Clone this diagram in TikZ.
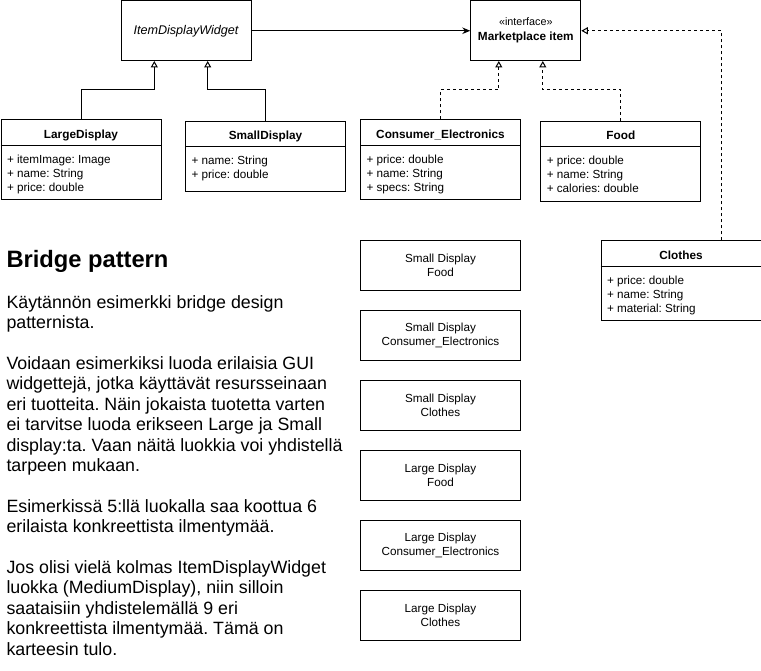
\documentclass[tikz,border=0pt]{standalone}
\usepackage{fontspec}
\setmainfont{Liberation Sans}
\usetikzlibrary{arrows.meta}
\frenchspacing
\newcommand\umlclass[7]{%
  \node[box, minimum width=#4pt, minimum height=#5pt] (#1) at (#2,#3) {};
  \node[ttl] (#1-t) at ([yshift=-18.7pt]#1.north) {#6};
  \draw ([yshift=-26pt]#1.north west) -- ([yshift=-26pt]#1.north east);
  \node[atr] (#1-a) at ([xshift=6pt,yshift=-43.8pt]#1.north west) {\parbox[t]{#4pt}{\raggedright\frenchspacing #7}};
}
\begin{document}
\begin{tikzpicture}[x=1pt,y=-1pt,line width=1pt,
  box/.style={draw, inner sep=0pt, anchor=north west},
  ttl/.style={font=\fontsize{11.8}{14}\selectfont\bfseries, anchor=base, inner sep=0pt},
  atr/.style={anchor=base west, inner sep=0pt, font=\fontsize{11.7}{14}\selectfont},
  gen/.style={-{Triangle[open,length=6.5pt,width=7pt]}},
  realize/.style={gen, dash pattern=on 3pt off 3pt},
  combo/.style={draw, inner sep=0pt, minimum width=160pt, minimum height=50pt, anchor=north west, align=center, font=\fontsize{11.7}{14}\selectfont}]
\useasboundingbox (0,0) rectangle (761,671);

% abstraction
\node[box, minimum width=130pt, minimum height=59.5pt] (idw) at (120.5,0.5) {};
\node[inner sep=0pt, font=\fontsize{12.6}{15}\selectfont\itshape] (idw-t) at (idw.center) {ItemDisplayWidget};

% interface
\node[box, minimum width=110pt, minimum height=59.5pt] (mi) at (470.3,0.5) {};
\node[inner sep=0pt, align=center, font=\fontsize{11.8}{15}\selectfont] (mi-t) at (mi.center) {{\fontsize{10.8}{15}\selectfont «interface»}\\{\bfseries Marketplace item}};

% classes
\umlclass{ld}{0.5}{119.5}{160}{79.5}{LargeDisplay}{+ itemImage: Image\\+ name: String\\+ price: double}
\umlclass{sd}{185}{121}{160}{70}{SmallDisplay}{+ name: String\\+ price: double}
\umlclass{ce}{360}{119.5}{160}{79.5}{Consumer\_Electronics}{+ price: double\\+ name: String\\+ specs: String}
\umlclass{food}{540.3}{121}{160}{80}{Food}{+ price: double\\+ name: String\\+ calories: double}
\umlclass{cl}{600.5}{240.5}{160}{79.5}{Clothes}{+ price: double\\+ name: String\\+ material: String}

% combinations
\node[combo] (sfood) at (360,240) {Small Display\\Food};
\node[combo] (sce) at (360,310) {Small Display\\Consumer\_Electronics};
\node[combo] (scl) at (360,380) {Small Display\\Clothes};
\node[combo] (lfood) at (360,450) {Large Display\\Food};
\node[combo] (lce) at (360,520) {Large Display\\Consumer\_Electronics};
\node[combo] (lcl) at (360,590) {Large Display\\Clothes};

% connectors
\draw[-{Stealth[length=8pt,width=6.5pt]}] (idw.east) -- (mi.west);
\draw[gen] (ld.north) -- ++(0,-29.5) -| ([xshift=-31.7pt]idw.south);
\draw[gen] (sd.north) -- ++(0,-31) -| ([xshift=21.7pt]idw.south);
\draw[realize] (ce.north) -- ++(0,-29.5) -| ([xshift=-27pt]mi.south);
\draw[realize] (food.north) -- ++(0,-31) -| ([xshift=17pt]mi.south);
\draw[realize] ([xshift=40pt]cl.north) |- (mi.east);

% text
\node[anchor=base west, inner sep=0pt, font=\fontsize{23.7}{28}\selectfont\bfseries] (head) at (6,268) {Bridge pattern};
\node[anchor=base west, inner sep=0pt, font=\fontsize{17.8}{20.4}\selectfont] (body) at (6,308.3) {\parbox[t]{360pt}{\raggedright\frenchspacing
Käytännön esimerkki bridge design\\
patternista.\\[20.4pt]
Voidaan esimerkiksi luoda erilaisia GUI\\
widgettejä, jotka käyttävät resursseinaan\\
eri tuotteita. Näin jokaista tuotetta varten\\
ei tarvitse luoda erikseen Large ja Small\\
display:ta. Vaan näitä luokkia voi yhdistellä\\
tarpeen mukaan.\\[20.4pt]
Esimerkissä 5:llä luokalla saa koottua 6\\
erilaista konkreettista ilmentymää.\\[20.4pt]
Jos olisi vielä kolmas ItemDisplayWidget\\
luokka (MediumDisplay), niin silloin\\
saataisiin yhdistelemällä 9 eri\\
konkreettista ilmentymää. Tämä on\\
karteesin tulo.}};
\end{tikzpicture}
\end{document}
